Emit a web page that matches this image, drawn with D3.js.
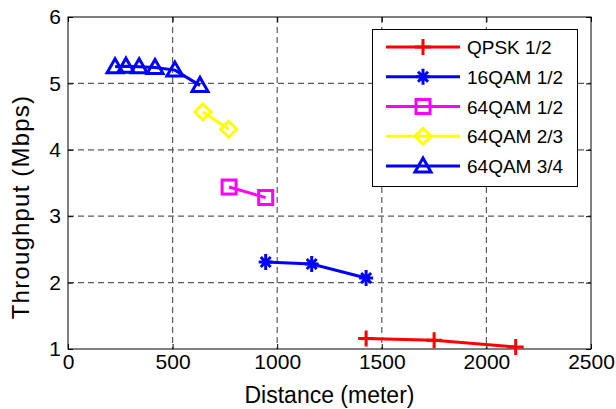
<!DOCTYPE html>
<html>
<head>
<meta charset="utf-8">
<script src="https://cdn.jsdelivr.net/npm/d3@7"></script>
<style>
body { margin: 0; background: #fff; }
text { font-family: "Liberation Sans", Arial, sans-serif; fill: #000; }
</style>
</head>
<body>
<svg width="616" height="409"></svg>
<script>
var width = 616, height = 409;
var margin = {top: 17, right: 25, bottom: 60, left: 68};

// data
var seriesNames = ["QPSK 1/2", "16QAM 1/2", "64QAM 1/2", "64QAM 2/3", "64QAM 3/4"];
var seriesColors = ["#ff0000", "#0000ff", "#ff00ff", "#ffff00", "#0000ff"];
var seriesMarkers = ["plus", "star", "square", "diamond", "triangle"];

var qpsk12 = [[1425, 1.16], [1750, 1.13], [2140, 1.03]];
var qam16_12 = [[945, 2.31], [1165, 2.28], [1425, 2.07]];
var qam64_12 = [[770, 3.44], [945, 3.28]];
var qam64_23 = [[645, 4.57], [768, 4.31]];
var qam64_34 = [[225, 5.25], [277, 5.26], [340, 5.25], [416, 5.24], [511, 5.2], [631, 4.97]];

var xTicks = [0, 500, 1000, 1500, 2000, 2500];
var yTicks = [1, 2, 3, 4, 5, 6];

var allSeries = [qpsk12, qam16_12, qam64_12, qam64_23, qam64_34];

var svg = d3.select("svg");
var w = width - margin.left - margin.right,
    h = height - margin.top - margin.bottom;

var x = d3.scaleLinear().domain([0, 2500]).range([margin.left, margin.left + w]);
var y = d3.scaleLinear().domain([1, 6]).range([margin.top + h, margin.top]);

// grid
var grid = svg.append("g").attr("class", "grid");
grid.selectAll("line.gx")
    .data(xTicks.slice(1, -1))
    .enter().append("line")
    .attr("x1", function(d) { return x(d); })
    .attr("x2", function(d) { return x(d); })
    .attr("y1", y(6)).attr("y2", y(1))
    .attr("stroke", "#5a5a5a").attr("stroke-width", 1.2)
    .attr("stroke-dasharray", "6,4");
grid.selectAll("line.gy")
    .data(yTicks.slice(1, -1))
    .enter().append("line")
    .attr("y1", function(d) { return y(d); })
    .attr("y2", function(d) { return y(d); })
    .attr("x1", x(0)).attr("x2", x(2500))
    .attr("stroke", "#5a5a5a").attr("stroke-width", 1.2)
    .attr("stroke-dasharray", "6,4");

// axes
var fmt = d3.format("d");
var xAxis = svg.append("g")
    .attr("transform", "translate(0," + y(1) + ")")
    .call(d3.axisBottom(x).tickValues(xTicks).tickFormat(fmt).tickSize(-5).tickPadding(5));
var xAxisTop = svg.append("g")
    .attr("transform", "translate(0," + y(6) + ")")
    .call(d3.axisTop(x).tickValues(xTicks).tickSize(-5).tickFormat(""));
var yAxis = svg.append("g")
    .attr("transform", "translate(" + x(0) + ",0)")
    .call(d3.axisLeft(y).tickValues(yTicks).tickFormat(fmt).tickSize(-5).tickPadding(7));
var yAxisRight = svg.append("g")
    .attr("transform", "translate(" + x(2500) + ",0)")
    .call(d3.axisRight(y).tickValues(yTicks).tickSize(-5).tickFormat(""));

[xAxis, xAxisTop, yAxis, yAxisRight].forEach(function(a) {
    a.select(".domain").remove();
    a.selectAll("line").attr("stroke", "#000");
    a.selectAll("text").style("font-size", "21px").attr("font-family", null);
});

svg.append("rect")
    .attr("x", x(0)).attr("y", y(6))
    .attr("width", w).attr("height", h)
    .attr("fill", "none").attr("stroke", "#000").attr("stroke-width", 1);

// labels
svg.append("text")
    .attr("x", x(1250)).attr("y", 403)
    .attr("text-anchor", "middle")
    .style("font-size", "23px")
    .text("Distance (meter)");
svg.append("text")
    .attr("transform", "translate(29,207) rotate(-90)")
    .attr("text-anchor", "middle")
    .style("font-size", "24px")
    .style("letter-spacing", "1.2px")
    .text("Throughput (Mbps)");

// markers
function markerPath(type) {
    switch (type) {
        case "plus": return "M-8,0H8M0,-8V8";
        case "star": return "M-7,0H7M0,-8V8M-5,-5L5,5M-5,5L5,-5";
        case "square": return "M-7,-7H7V7H-7Z";
        case "diamond": return "M0,-8L8,0L0,8L-8,0Z";
        case "triangle": return "M0,-8L8,6H-8Z";
    }
}

var line = d3.line()
    .x(function(d) { return x(d[0]); })
    .y(function(d) { return y(d[1]); });

var plot = svg.append("g").attr("class", "series");
allSeries.forEach(function(data, i) {
    var g = plot.append("g");
    g.append("path")
        .datum(data)
        .attr("d", line)
        .attr("fill", "none")
        .attr("stroke", seriesColors[i])
        .attr("stroke-width", 3);
    g.selectAll("path.m")
        .data(data)
        .enter().append("path")
        .attr("class", "m")
        .attr("transform", function(d) { return "translate(" + x(d[0]) + "," + y(d[1]) + ")"; })
        .attr("d", markerPath(seriesMarkers[i]))
        .attr("fill", "none")
        .attr("stroke", seriesColors[i])
        .attr("stroke-width", 3);
});

// legend
var legend = svg.append("g").attr("class", "legend");
legend.append("rect")
    .attr("x", 372.5).attr("y", 29.5)
    .attr("width", 205).attr("height", 157)
    .attr("fill", "#fff").attr("stroke", "#000").attr("stroke-width", 1);

var legendY = d3.scalePoint().domain(seriesNames).range([47, 166]);
var item = legend.selectAll("g.item")
    .data(seriesNames)
    .enter().append("g")
    .attr("class", "item")
    .attr("transform", function(d) { return "translate(0," + legendY(d) + ")"; });
item.append("line")
    .attr("x1", 386).attr("x2", 460)
    .attr("stroke", function(d, i) { return seriesColors[i]; })
    .attr("stroke-width", 3);
item.append("path")
    .attr("transform", "translate(423,0)")
    .attr("d", function(d, i) { return markerPath(seriesMarkers[i]); })
    .attr("fill", "none")
    .attr("stroke", function(d, i) { return seriesColors[i]; })
    .attr("stroke-width", 3);
item.append("text")
    .attr("x", 467).attr("y", 7)
    .style("font-size", "19px")
    .text(function(d) { return d; });
</script>
</body>
</html>
